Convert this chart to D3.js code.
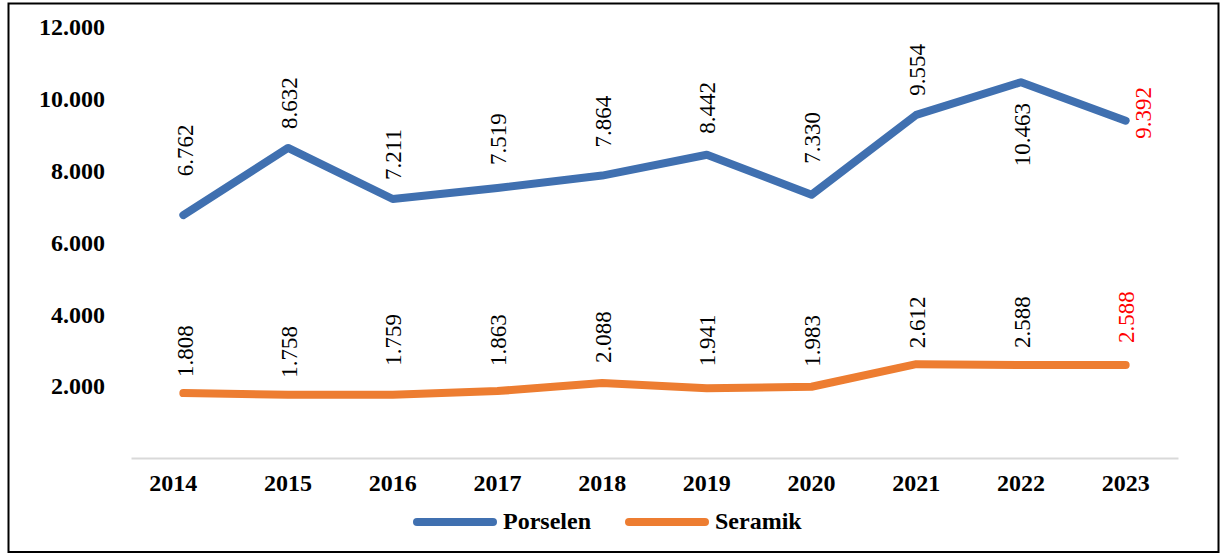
<!DOCTYPE html>
<html>
<head>
<meta charset="utf-8">
<script src="https://cdn.jsdelivr.net/npm/d3@7"></script>
<style>
  body { margin: 0; background: #fff; }
  svg { display: block; font-family: "Liberation Serif", "Times New Roman", serif; }
</style>
</head>
<body>
<div id="chart"></div>
<script>
const years = ['2014', '2015', '2016', '2017', '2018', '2019', '2020', '2021', '2022', '2023'];
const porselen = [6762, 8632, 7211, 7519, 7864, 8442, 7330, 9554, 10463, 9392];
const seramik = [1808, 1758, 1759, 1863, 2088, 1941, 1983, 2612, 2588, 2588];
const yTicks = [2000, 4000, 6000, 8000, 10000, 12000];
const seriesNames = ['Porselen', 'Seramik'];
const seriesColors = ['#4070b0', '#ed7d31'];

// label placement (px from the point where the rotated text starts)
const porLabelDx = [2, 1, 1, 1, 1, 1, 1, 1, 1, 18];
const porLabelDy = [-39, -19, -19, -23, -28, -21, -31, -19, 84, 18];
const serLabelDx = [2, 1, 1, 1, 1, 1, 1, 1, 1, 1];
const serLabelDy = [-16, -17, -29, -25, -20, -22, -20, -16, -17, -22];

const width = 1226, height = 554;
const plot = { left: 131, right: 1178, top: 27, bottom: 458 };

const locale = d3.formatLocale({ decimal: ',', thousands: '.', grouping: [3], currency: ['', ''] });
const fmt = locale.format(',');

const svg = d3.select('#chart')
  .append('svg')
  .attr('width', width)
  .attr('height', height);

svg.append('rect')
  .attr('x', 8.5).attr('y', 3.5)
  .attr('width', 1210).attr('height', 548.5)
  .attr('fill', 'none')
  .attr('stroke', '#000')
  .attr('stroke-width', 2);

const x = d3.scaleBand()
  .domain(years)
  .range([plot.left, plot.right])
  .padding(0);

const y = d3.scaleLinear()
  .domain([0, 12000])
  .range([plot.bottom, plot.top]);

const cx = d => x(d) + x.bandwidth() / 2;

// X axis
const xAxis = svg.append('g')
  .attr('transform', `translate(0, ${plot.bottom})`)
  .call(d3.axisBottom(x).tickSize(0).tickSizeOuter(0).tickPadding(16));
xAxis.select('.domain').attr('stroke', '#d9d9d9').attr('stroke-width', 2);
xAxis.selectAll('text')
  .attr('font-family', 'Liberation Serif')
  .attr('font-size', 24)
  .attr('font-weight', 'bold')
  .attr('fill', '#000')
  .attr('dx', (d, i) => i === 0 ? -10 : 0);

// Y axis (labels only)
const yAxis = svg.append('g')
  .attr('transform', `translate(${plot.left}, 0)`)
  .call(d3.axisLeft(y).tickValues(yTicks).tickSize(0).tickPadding(26).tickFormat(fmt));
yAxis.select('.domain').remove();
yAxis.selectAll('text')
  .attr('font-family', 'Liberation Serif')
  .attr('font-size', 24)
  .attr('font-weight', 'bold')
  .attr('fill', '#000');

const series = [
  { name: seriesNames[0], values: porselen, color: seriesColors[0], dx: porLabelDx, dy: porLabelDy },
  { name: seriesNames[1], values: seramik, color: seriesColors[1], dx: serLabelDx, dy: serLabelDy }
];

const line = d3.line()
  .x((d, i) => cx(years[i]))
  .y(d => y(d));

svg.append('g')
  .selectAll('path')
  .data(series)
  .join('path')
  .attr('d', d => line(d.values))
  .attr('fill', 'none')
  .attr('stroke', d => d.color)
  .attr('stroke-width', 8)
  .attr('stroke-linejoin', 'round')
  .attr('stroke-linecap', 'round');

// rotated data labels
series.forEach(s => {
  svg.append('g')
    .selectAll('text')
    .data(s.values)
    .join('text')
    .attr('transform', (d, i) => `translate(${cx(years[i]) + s.dx[i]}, ${y(d) + s.dy[i]}) rotate(-90)`)
    .attr('dy', '0.33em')
    .attr('text-anchor', 'start')
    .attr('font-size', 23)
    .attr('fill', (d, i) => i === s.values.length - 1 ? '#ff0000' : '#000')
    .text(d => fmt(d));
});

// legend
const legend = svg.append('g')
  .selectAll('g')
  .data(series)
  .join('g')
  .attr('transform', (d, i) => `translate(${417 + i * 212}, 522)`);

legend.append('line')
  .attr('x1', 0).attr('x2', 76)
  .attr('stroke', d => d.color)
  .attr('stroke-width', 8)
  .attr('stroke-linecap', 'round');

legend.append('text')
  .attr('x', 86)
  .attr('y', 7)
  .attr('font-size', 24)
  .attr('font-weight', 'bold')
  .text(d => d.name);
</script>
</body>
</html>
